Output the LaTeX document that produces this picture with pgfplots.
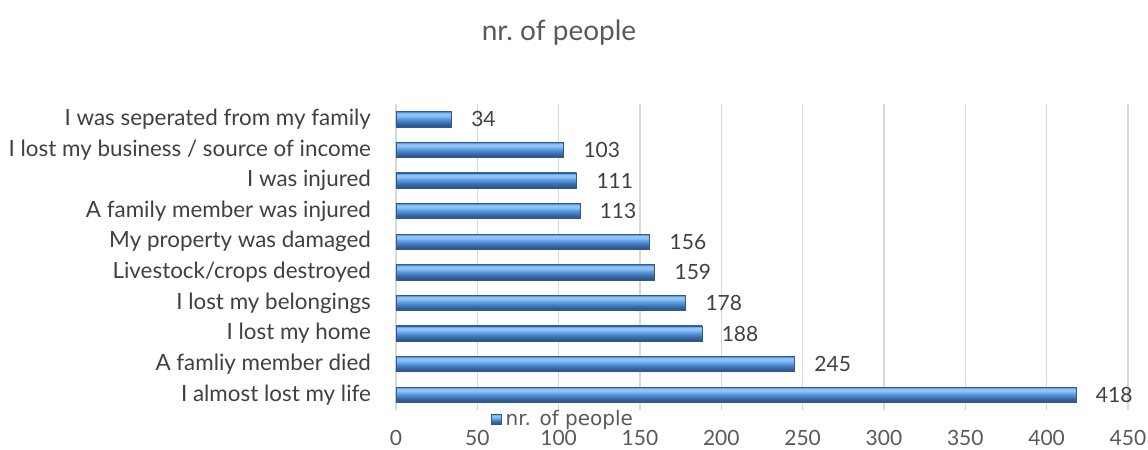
\documentclass[border=0pt]{standalone}
\usepackage{fontspec}
\setmainfont{Lato}
\newfontfamily\legfont{DejaVu Sans}
\usepackage{pgfplots}
\pgfplotsset{compat=1.18}
\definecolor{txt}{HTML}{404040}
\definecolor{ttl}{HTML}{595959}
\definecolor{grd}{HTML}{D9D9D9}
\definecolor{bartop}{HTML}{4682CC}
\definecolor{barlight}{HTML}{8FC3F5}
\definecolor{barmid}{HTML}{5B9BE1}
\definecolor{bardark}{HTML}{3A6BA8}
\definecolor{barbot}{HTML}{2A4E7C}
\definecolor{baredge}{HTML}{2F5A8F}
\pgfdeclareverticalshading{barshade}{100bp}{color(0bp)=(barbot); color(25bp)=(barbot); color(38bp)=(bardark); color(52bp)=(barmid); color(62bp)=(barlight); color(69bp)=(barlight); color(75bp)=(bartop); color(100bp)=(bartop)}
\pgfplotsset{onebar/.style={xbar, bar width=0.5, bar shift=0pt, draw=baredge, line width=0.3pt, shade, shading=barshade}}
\begin{document}
\begin{tikzpicture}
\useasboundingbox (-198pt,-20pt) rectangle (376pt,205pt);
\begin{axis}[
  scale only axis,
  width=366pt, height=153pt,
  xmin=0, xmax=450,
  ymin=-0.5, ymax=9.5,
  xtick={0,50,...,450},
  ytick={0,...,9},
  yticklabels={I almost lost my life, A famliy member died, I lost my home, I lost my belongings, Livestock/crops destroyed, My property was damaged, A family member was injured, I was injured, I lost my business / source of income, I was seperated from my family},
  /pgf/number format/assume math mode=true,
  xmajorgrids,
  grid style={draw=grd, line width=0.8pt},
  axis y line*=left,
  axis x line*=bottom,
  x axis line style={draw=none},
  y axis line style={draw=grd, line width=0.8pt},
  major tick length=0pt,
  xticklabel style={text=ttl, anchor=center, yshift=-14pt, font=\fontsize{10.5}{12}\selectfont},
  yticklabel style={text=txt, xshift=-9pt, font=\fontsize{11.2}{13}\selectfont},
  title={nr.\ of people},
  title style={at={(0.2227,1.1928)}, anchor=center, font=\fontsize{14}{16}\selectfont, text=ttl},
  legend style={at={(0.2295,-0.03)}, anchor=center, draw=none, fill=none, font=\legfont\fontsize{10}{12}\selectfont, text=ttl, inner sep=0pt},
  legend image code/.code={\path[shade, shading=barshade, draw=baredge, line width=0.3pt] (0pt,-2.5pt) rectangle (5pt,2.5pt);},
  nodes near coords,
  point meta=x,
  nodes near coords style={text=txt, font=\fontsize{10.5}{12}\selectfont, anchor=west, xshift=6.5pt},
]
\addplot[onebar] coordinates {(418,0)};
\addlegendentry{nr. of people}
\addplot[onebar, forget plot] coordinates {(245,1)};
\addplot[onebar, forget plot] coordinates {(188,2)};
\addplot[onebar, forget plot] coordinates {(178,3)};
\addplot[onebar, forget plot] coordinates {(159,4)};
\addplot[onebar, forget plot] coordinates {(156,5)};
\addplot[onebar, forget plot] coordinates {(113,6)};
\addplot[onebar, forget plot] coordinates {(111,7)};
\addplot[onebar, forget plot] coordinates {(103,8)};
\addplot[onebar, forget plot] coordinates {(34,9)};
\end{axis}
\end{tikzpicture}
\end{document}
